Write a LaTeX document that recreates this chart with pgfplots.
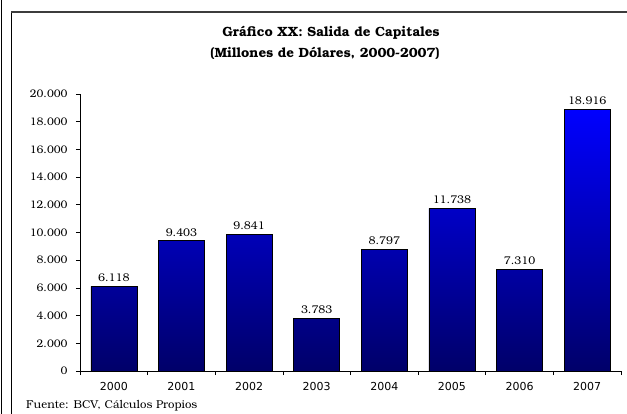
\documentclass[border=0pt]{standalone}
\usepackage{pgfplots}
\pgfplotsset{compat=1.18}
\usepackage{fontspec}
\setmainfont{TeX Gyre Bonum}
\newfontfamily\yearfont{DejaVu Sans}
\definecolor{barbottom}{RGB}{0,0,105}
\definecolor{bartop}{RGB}{0,0,255}
\definecolor{framegray}{RGB}{60,60,60}
\begin{document}
\begin{tikzpicture}
\useasboundingbox (0,0) rectangle (627bp,414bp);
% page frame
\draw[black, line width=0.8bp] (1.5bp,0) -- (1.5bp,414bp);
\draw[black, line width=0.8bp] (11bp,0) -- (11bp,402bp);
\draw[framegray, line width=1.5bp] (11bp,402bp) -- (627bp,402bp);
% titles
\node[font=\fontsize{13.4bp}{15bp}\selectfont\bfseries, anchor=base] at (331bp,377bp) {Gráfico XX: Salida de Capitales};
\node[font=\fontsize{13.4bp}{15bp}\selectfont\bfseries, anchor=base] at (325bp,356bp) {(Millones de Dólares, 2000-2007)};
\node[font=\fontsize{11.4bp}{13bp}\selectfont, anchor=base west, inner sep=0] at (26bp,6bp) {Fuente: BCV, Cálculos Propios};
\begin{axis}[
  at={(80bp,43bp)}, anchor=south west,
  scale only axis,
  width=541bp, height=277bp,
  xmin=-0.5, xmax=7.5,
  ymin=0, ymax=20000,
  axis lines*=left,
  axis line style={black, line width=0.7bp},
  xtick={0,...,7},
  xticklabels={2000,2001,2002,2003,2004,2005,2006,2007},
  major x tick style={draw=none},
  minor xtick={-0.5,0.5,...,7.5},
  minor x tick style={black, line width=0.7bp},
  minor tick length=4bp,
  ytick={0,2000,...,20000},
  scaled y ticks=false,
  major tick length=4bp,
  tick align=outside,
  y tick style={black, line width=0.7bp},
  /pgf/number format/.cd, 1000 sep={.}, assume math mode=true,
  /pgfplots/.cd,
  yticklabel style={font=\fontsize{11bp}{13bp}\selectfont, xshift=-5bp},
  xticklabel style={font=\yearfont\fontsize{11bp}{13bp}\selectfont, yshift=-4bp},
  enlargelimits=false,
  clip=false,
]
\addplot[ybar, bar width=46bp, draw=black, line width=0.6bp,
  top color=bartop, bottom color=barbottom,
  nodes near coords,
  every node near coord/.append style={font=\fontsize{11.2bp}{13bp}\selectfont, black, yshift=1bp},
] coordinates {
(0,6118) (1,9403) (2,9841) (3,3783) (4,8797) (5,11738) (6,7310) (7,18916)
};
\end{axis}
\end{tikzpicture}
\end{document}
